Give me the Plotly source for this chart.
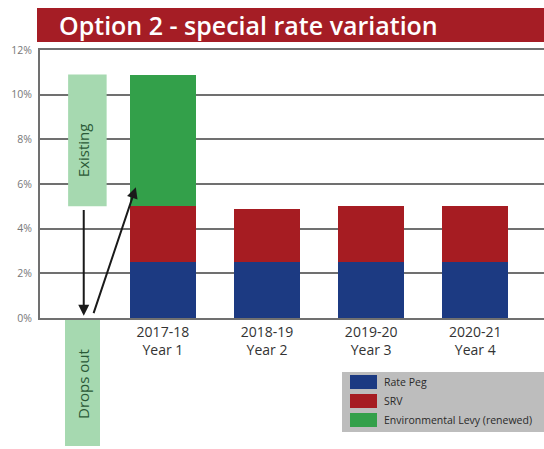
import plotly.graph_objects as go

# Data
years = ["2017-18", "2018-19", "2019-20", "2020-21"]
year_labels = ["Year 1", "Year 2", "Year 3", "Year 4"]
rate_peg = [2.5, 2.5, 2.5, 2.5]
srv = [2.5, 2.4, 2.5, 2.5]
env_levy = [5.9, 0, 0, 0]
series_names = ["Rate Peg", "SRV", "Environmental Levy (renewed)"]
series_colors = ["#1c3a82", "#a61c22", "#33a04a"]
y_ticks = [0, 2, 4, 6, 8, 10, 12]
y_ticktext = [f"{v}%" for v in y_ticks]

W, H = 544, 449
ML, MR, MT, MB = 40, 0, 50, 131
PW, PH = W - ML - MR, H - MT - MB


def px(x):
    return (x - ML) / PW


def py(y):
    return (H - MB - y) / PH


fig = go.Figure()
for name, vals, col in zip(series_names, [rate_peg, srv, env_levy], series_colors):
    fig.add_trace(go.Bar(x=years, y=vals, name=name, marker=dict(color=col, line=dict(width=0)),
                         width=0.63, showlegend=False))

ticktext = [f"{a}<br>{b}" for a, b in zip(years, year_labels)]

shapes = []
annotations = []

# Title banner
shapes.append(dict(type="rect", xref="paper", yref="paper", x0=px(37), x1=px(546), y0=py(42), y1=py(8),
                   fillcolor="#a51d25", line=dict(width=0), layer="above"))
annotations.append(dict(text="Option 2 - special rate variation", xref="paper", yref="paper",
                        x=px(57), y=py(25), xanchor="left", yanchor="middle", showarrow=False,
                        font=dict(family="Open Sans", size=25, color="white", weight=600)))

# "Existing" levy column and "Drops out" column
existing_top = rate_peg[0] + srv[0] + env_levy[0]
existing_bottom = rate_peg[0] + srv[0]
shapes.append(dict(type="rect", xref="x", yref="y", x0=-0.91, x1=-0.54, y0=existing_bottom, y1=existing_top,
                   fillcolor="#a6d9b0", line=dict(width=0), layer="above"))
annotations.append(dict(text="Existing", xref="x", yref="y", x=-0.77, y=7.5, textangle=-90,
                        xanchor="center", yanchor="middle",
                        showarrow=False, font=dict(family="Open Sans", size=15, color="#2b5a37")))
shapes.append(dict(type="rect", xref="paper", yref="paper", x0=px(65), x1=px(100), y0=py(446), y1=py(320),
                   fillcolor="#a6d9b0", line=dict(width=0), layer="above"))
annotations.append(dict(text="Drops out", xref="paper", yref="paper", x=px(83), y=py(384), textangle=-90,
                        xanchor="center", yanchor="middle",
                        showarrow=False, font=dict(family="Open Sans", size=15, color="#2b5a37")))

# Arrows
annotations.append(dict(x=-0.76, y=0.1, ax=-0.76, ay=existing_bottom - 0.1, xref="x", yref="y",
                        axref="x", ayref="y", text="", showarrow=True, arrowhead=2, arrowsize=1.1,
                        arrowwidth=2, arrowcolor="#1a1a1a"))
annotations.append(dict(x=-0.26, y=5.85, ax=-0.67, ay=0.15, xref="x", yref="y",
                        axref="x", ayref="y", text="", showarrow=True, arrowhead=2, arrowsize=1.1,
                        arrowwidth=2, arrowcolor="#1a1a1a"))

# Legend panel
shapes.append(dict(type="rect", xref="paper", yref="paper", x0=px(342), x1=px(546), y0=py(432), y1=py(372),
                   fillcolor="#bdbdbd", line=dict(width=0), layer="above"))
for i, (name, col) in enumerate(zip(series_names, series_colors)):
    yc = 382 + i * 19
    shapes.append(dict(type="rect", xref="paper", yref="paper", x0=px(350), x1=px(377),
                       y0=py(yc + 7), y1=py(yc - 7), fillcolor=col, line=dict(width=0), layer="above"))
    annotations.append(dict(text=name, xref="paper", yref="paper", x=px(382), y=py(yc),
                            xanchor="left", yanchor="middle", showarrow=False,
                            font=dict(family="Open Sans", size=10.5, color="#2a2a2a")))

fig.update_layout(
    width=W, height=H,
    margin=dict(l=ML, r=MR, t=MT, b=MB),
    paper_bgcolor="white", plot_bgcolor="white",
    barmode="stack",
    bargap=0.37,
    shapes=shapes,
    annotations=annotations,
    xaxis=dict(range=[-1.18, 3.66], tickmode="array", tickvals=years, ticktext=ticktext,
               showgrid=False, showline=True, mirror=True, linecolor="#707070", linewidth=2,
               ticks="", tickfont=dict(family="Open Sans", size=14, color="#333333"),
               fixedrange=True),
    yaxis=dict(range=[0, 12], tickmode="array", tickvals=y_ticks, ticktext=y_ticktext,
               showgrid=True, gridcolor="#707070",
               gridwidth=2, showline=True, linecolor="#707070", linewidth=2, zeroline=False,
               ticks="", ticklabelstandoff=4,
               tickfont=dict(family="Open Sans", size=10.5, color="#777777"), fixedrange=True),
    font=dict(family="Open Sans"),
)

fig.write_html("out.html")
